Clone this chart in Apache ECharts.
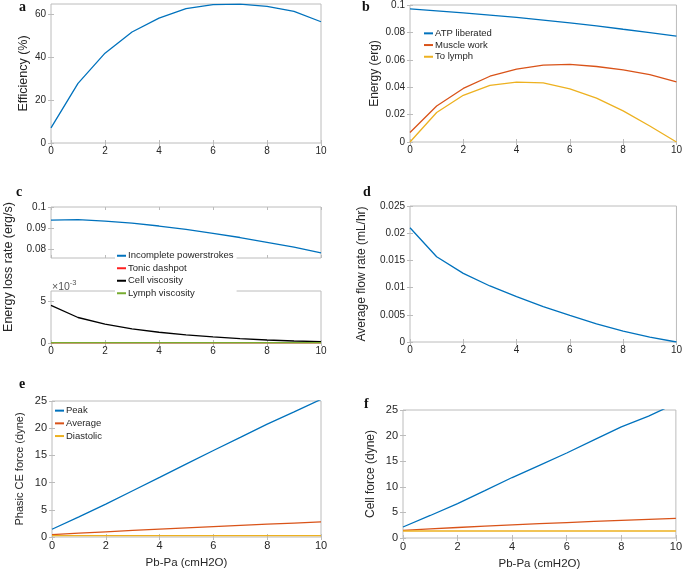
<!DOCTYPE html>
<html><head><meta charset="utf-8">
<script src="https://cdn.jsdelivr.net/npm/echarts@6/dist/echarts.min.js"></script>
<style>html,body{margin:0;padding:0;background:#fff}#chart{width:685px;height:571px}</style>
</head><body><div id="chart"></div>
<script>
// ---------- data ----------
const xValues = [0,1,2,3,4,5,6,7,8,9,10];
// panel a
const efficiency = [7.05,27.9,42.0,51.9,58.4,62.8,64.7,64.9,63.9,61.6,56.7];
// panel b
const atpLiberated = [0.0971,0.0957,0.0942,0.0926,0.0909,0.0890,0.0870,0.0848,0.0823,0.0799,0.0773];
const muscleWork   = [0.0069,0.0263,0.0391,0.0480,0.0532,0.0561,0.0566,0.0551,0.0527,0.0492,0.0439];
const toLymph      = [0.0,0.0215,0.0341,0.0413,0.0437,0.0432,0.0387,0.0320,0.0227,0.0117,0.0];
// panel c
const incompletePowerstrokes = [0.0937,0.0940,0.0932,0.0923,0.0909,0.0893,0.0874,0.0854,0.0831,0.0808,0.0780];
const tonicDashpot   = [0.00002,0.00002,0.00002,0.00002,0.00002,0.00002,0.00002,0.00002,0.00002,0.00002,0.00002];
const cellViscosity  = [0.00448,0.00304,0.00224,0.00168,0.00128,0.00096,0.00072,0.00052,0.00036,0.00024,0.00016];
const lymphViscosity = [0.00003,0.00003,0.00003,0.00003,0.00003,0.00003,0.00003,0.00003,0.00003,0.00003,0.00003];
// panel d
const flowRate = [0.0210,0.01567,0.01262,0.0103,0.00835,0.00652,0.00488,0.00335,0.0020,0.00091,0.0];
// panel e
const peakCE      = [1.42,3.7,6.03,8.5,10.96,13.45,15.9,18.3,20.75,23.0,25.3];
const averageCE   = [0.43,0.70,0.96,1.21,1.45,1.68,1.90,2.12,2.35,2.56,2.77];
const diastolicCE = [0.25,0.25,0.25,0.25,0.25,0.25,0.25,0.25,0.25,0.25,0.25];
// panel f
const peakCell      = [2.15,4.4,6.72,9.25,11.81,14.2,16.6,19.15,21.7,23.8,26.3];
const averageCell   = [1.5,1.78,2.05,2.3,2.55,2.8,3.02,3.24,3.45,3.65,3.85];
const diastolicCell = [1.37,1.37,1.37,1.37,1.37,1.37,1.37,1.37,1.37,1.37,1.37];
// tick labels
const aTicks = [0,20,40,60];
const cUpperTicks = [0.08,0.09,0.1];
const cLowerTicks = [0,0.005];

// ---------- styling ----------
const FF = 'Liberation Sans, Arial, Helvetica, sans-serif';
const AX = '#bcbcbc', TX = '#262626';
const BLUE='#0072BD', ORANGE='#D95319', YELLOW='#EDB120', RED='#FF2020', BLACK='#000000', GREEN='#77AC30';

const grids=[], xAxes=[], yAxes=[], series=[];
function pts(arr){ return xValues.map((x,i)=>[x,arr[i]]); }
function panel(box, o){
  const gi = grids.length;
  const fs = o.fs || 10, ts = o.ts || 12;
  grids.push({left:box[0], top:box[1], width:box[2], height:box[3], show:true, borderColor:AX, borderWidth:1, backgroundColor:'rgba(0,0,0,0)'});
  const tick = {show:true, inside:true, length:3, lineStyle:{color:AX, width:1}};
  const xi = xAxes.length, yi = yAxes.length;
  xAxes.push({type:'value', gridIndex:gi, min:0, max:10, interval:2, position:'bottom',
    axisLine:{show:false}, axisTick:tick, splitLine:{show:false},
    axisLabel:{show:o.xLabels!==false, color:TX, fontSize:fs, margin:3, fontFamily:FF},
    name:o.xName||'', nameLocation:'middle', nameGap:20,
    nameTextStyle:{fontSize:11.5, color:TX, fontFamily:FF}});
  xAxes.push({type:'value', gridIndex:gi, min:0, max:10, interval:2, position:'top',
    axisLine:{show:false}, axisTick:tick, splitLine:{show:false}, axisLabel:{show:false}});
  const yl = Object.assign({color:TX, fontSize:fs, margin:5, fontFamily:FF}, o.yLabel||{});
  const yt = Object.assign({}, tick, o.yTick||{});
  yAxes.push(Object.assign({type:'value', gridIndex:gi, position:'left',
    axisLine:{show:false}, axisTick:yt, splitLine:{show:false}, axisLabel:yl,
    name:o.yName||'', nameLocation:'middle', nameGap:o.yGap||25,
    nameTextStyle:{fontSize:ts, color:TX, fontFamily:FF}}, o.y));
  yAxes.push(Object.assign({type:'value', gridIndex:gi, position:'right',
    axisLine:{show:false}, axisTick:yt, splitLine:{show:false}, axisLabel:{show:false}}, o.y));
  (o.series||[]).forEach(s=>{
    series.push({type:'line', name:s[0], data:pts(s[1]), xAxisIndex:xi, yAxisIndex:yi,
      showSymbol:false, symbol:'none', clip:true, color:s[2],
      lineStyle:{width:1.3, color:s[2]}, emphasis:{disabled:true}});
  });
}

panel([51,4,270,139], {yName:'Efficiency (%)', ts:12.5, yGap:21, y:{min:0, max:65},
  yLabel:{customValues:aTicks}, yTick:{customValues:aTicks},
  series:[['Efficiency', efficiency, BLUE]]});
panel([410,3,269,139], {yName:'Energy (erg)', yGap:29, y:{min:0, max:0.1, interval:0.02},
  series:[['ATP liberated', atpLiberated, BLUE],['Muscle work', muscleWork, ORANGE],['To lymph', toLymph, YELLOW]]});
panel([51,207,270,51], {xLabels:false, y:{min:0.0756, max:0.1},
  yLabel:{customValues:cUpperTicks}, yTick:{customValues:cUpperTicks},
  series:[['Incomplete powerstrokes', incompletePowerstrokes, BLUE]]});
panel([51,291,270,52], {y:{min:0, max:0.0062},
  yLabel:{customValues:cLowerTicks, formatter:v=>String(Math.round(v*1000))}, yTick:{customValues:cLowerTicks},
  series:[['Tonic dashpot', tonicDashpot, RED],['Cell viscosity', cellViscosity, BLACK],['Lymph viscosity', lymphViscosity, GREEN]]});
panel([410,206,268,136], {yName:'Average flow rate (mL/hr)', yGap:42, y:{min:0, max:0.025, interval:0.005},
  series:[['Flow rate', flowRate, BLUE]]});
panel([52,401,269,136], {fs:11, ts:11, xName:'Pb-Pa (cmH2O)', yName:'Phasic CE force (dyne)', yGap:27, y:{min:0, max:25, interval:5},
  series:[['Peak', peakCE, BLUE],['Average', averageCE, ORANGE],['Diastolic', diastolicCE, YELLOW]]});
panel([403,410,274,128], {fs:11, ts:12, xName:'Pb-Pa (cmH2O)', yName:'Cell force (dyne)', yGap:26, y:{min:0, max:25, interval:5},
  series:[['Peak ', peakCell, BLUE],['Average ', averageCell, ORANGE],['Diastolic ', diastolicCell, YELLOW]]});

function legendAt(names, left, top, lh, extra){
  return Object.assign({data:names, orient:'vertical', left:left, top:top, itemWidth:9, itemHeight:2,
    itemGap:0, icon:'rect', padding:0, selectedMode:false,
    textStyle:{fontSize:9.5, lineHeight:lh, color:TX, fontFamily:FF, padding:[0,0,0,-3]}}, extra||{});
}

const letter = (t,x,y)=>({type:'text', left:x, top:y, z:10,
  style:{text:t, font:'bold 14px "Liberation Serif", "Times New Roman", serif', fill:'#111'}});

const option = {
  animation:false,
  backgroundColor:'#ffffff',
  textStyle:{fontFamily:FF},
  grid:grids, xAxis:xAxes, yAxis:yAxes, series:series,
  legend:[
    legendAt(['ATP liberated','Muscle work','To lymph'], 424, 27.5, 11.7),
    legendAt(['Incomplete powerstrokes','Tonic dashpot','Cell viscosity','Lymph viscosity'], 115, 249.5, 12.5,
      {backgroundColor:'#ffffff', padding:[0,3,0,2], z:20}),
    legendAt(['Peak','Average','Diastolic'], 55, 404.3, 12.7)
  ],
  graphic:[
    letter('a',19,0), letter('b',362,0), letter('c',16,185), letter('d',363,185),
    letter('e',19,377), letter('f',364,397),
    {type:'text', z:10, x:9, y:267, rotation:Math.PI/2,
      style:{x:0, y:0, text:'Energy loss rate (erg/s)', font:'12.5px '+FF, fill:TX, align:'center', verticalAlign:'middle'}},
    {type:'text', z:30, left:52, top:279, style:{text:'{a|×10}{s|-3}', fill:'#555',
      rich:{a:{fontSize:10.5, fontFamily:FF, fill:'#555', verticalAlign:'bottom', lineHeight:14},
            s:{fontSize:7.5, fontFamily:FF, fill:'#555', verticalAlign:'top', lineHeight:14}}}}
  ]
};
const chart = echarts.init(document.getElementById('chart'), null, {renderer:'canvas'});
chart.setOption(option);
</script>
</body></html>
